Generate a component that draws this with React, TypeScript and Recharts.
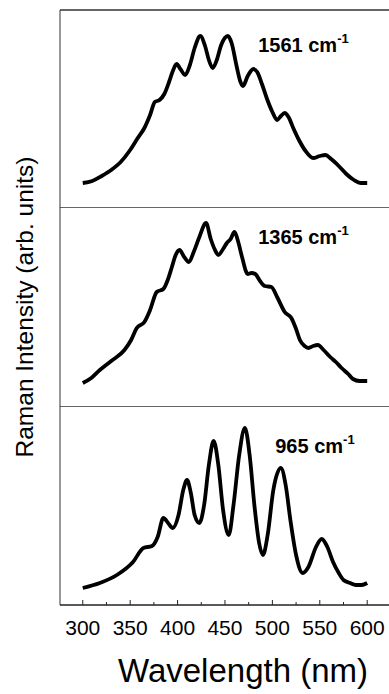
import { LineChart, Line, XAxis, YAxis, ReferenceDot, ReferenceLine, Label } from 'recharts'

// wavelength (nm) / intensity (arb. units)
const nm1561 = [300, 310, 320, 330, 340, 350, 358, 365, 371, 376, 381, 386, 391, 395, 399, 403, 408, 413, 418, 424, 429, 433, 437, 441, 446, 453, 457, 462, 466, 469, 474, 480, 484, 489, 494, 500, 505, 509, 513, 517, 522, 528, 535, 543, 550, 556, 562, 570, 578, 586, 593, 600]
const int1561 = [25, 27, 32, 38, 46, 58, 70, 80, 93, 106, 108, 114, 126, 137, 144, 139, 133, 143, 160, 172, 162, 148, 140, 147, 163, 172, 165, 143, 127, 122, 132, 139, 136, 124, 110, 96, 88, 92, 95, 91, 80, 68, 57, 50, 52, 53, 49, 42, 34, 28, 25, 25]

const nm1365 = [300, 309, 318, 330, 344, 351, 357, 365, 371, 378, 385, 390, 394, 398, 402, 407, 412, 417, 423, 430, 435, 439, 443, 448, 452, 456, 460, 464, 468, 474, 478, 482, 487, 492, 499, 505, 513, 520, 525, 529, 534, 538, 543, 548, 554, 561, 567, 573, 580, 585, 592, 600]
const int1365 = [24, 29, 37, 46, 57, 67, 79, 85, 97, 115, 118, 128, 140, 152, 157, 150, 145, 155, 170, 184, 168, 158, 152, 158, 164, 168, 175, 165, 150, 133, 134, 133, 126, 121, 120, 110, 95, 89, 78, 67, 61, 59, 61, 62, 57, 50, 45, 39, 33, 28, 26, 26]

const nm965 = [300, 318, 336, 353, 364, 373, 379, 385, 390, 395, 401, 406, 410, 414, 418, 423, 428, 433, 438, 443, 448, 454, 459, 465, 471, 476, 481, 486, 490, 495, 501, 509, 514, 519, 525, 532, 538, 546, 552, 558, 564, 570, 575, 582, 588, 594, 600]
const int965 = [17, 22, 30, 43, 57, 59, 68, 87, 82, 77, 90, 115, 125, 112, 90, 82, 100, 140, 164, 140, 95, 70, 100, 150, 177, 150, 100, 62, 50, 70, 115, 137, 120, 85, 50, 32, 38, 58, 66, 58, 43, 32, 25, 22, 20, 20, 22]

const xTicks = [300, 325, 350, 375, 400, 425, 450, 475, 500, 525, 550, 575, 600]
const xDomain = [276, 623]

const toRows = (nm: number[], v: number[]) => nm.map((x, i) => ({ nm: x, v: v[i] }))

const FONT = '"Liberation Sans", Arial, sans-serif'

function BottomTick({ x, y, payload }: any) {
  const major = payload.value % 50 === 0
  return (
    <g>
      <line x1={x} x2={x} y1={y} y2={y - (major ? 5 : 3)} stroke="#222" strokeWidth={1} />
      {major && (
        <text x={x} y={y + 30} textAnchor="middle" fontSize={21} fontFamily={FONT} fill="#000">
          {payload.value}
        </text>
      )}
    </g>
  )
}

function Annotation({ viewBox, wn }: any) {
  const { x, y } = viewBox
  return (
    <text x={x} y={y} fontSize={20} fontWeight="bold" fontFamily={FONT} fill="#000">
      <tspan>{wn} cm</tspan>
      <tspan dy={-9} fontSize={13}>-1</tspan>
    </text>
  )
}

function Panel({ rows, height, yMax, label, labelAt, topLine, bottomAxis }: any) {
  return (
    <LineChart
      width={389}
      height={height}
      data={rows}
      margin={{ top: topLine ? 10 : 0, right: 0, bottom: 0, left: 60 }}
    >
      {bottomAxis ? (
        <XAxis
          dataKey="nm"
          type="number"
          domain={xDomain}
          ticks={xTicks}
          tick={<BottomTick />}
          tickLine={false}
          tickSize={0}
          tickMargin={0}
          interval={0}
          height={89}
          axisLine={{ stroke: '#222', strokeWidth: 1.5 }}
        >
          <Label
            content={(p: any) => (
              <text x={243} y={p.viewBox.y + 77} textAnchor="middle" fontSize={33} fontFamily={FONT} fill="#000">
                Wavelength (nm)
              </text>
            )}
          />
        </XAxis>
      ) : (
        <XAxis dataKey="nm" type="number" domain={xDomain} hide />
      )}
      <YAxis type="number" domain={[0, yMax]} hide />
      {/* panel frame */}
      <ReferenceLine x={xDomain[0]} stroke="#555" strokeWidth={1.2} ifOverflow="visible" />
      {topLine && <ReferenceLine y={yMax} stroke="#333" strokeWidth={1.5} ifOverflow="visible" />}
      {!bottomAxis && <ReferenceLine y={0} stroke="#333" strokeWidth={1.5} ifOverflow="visible" />}
      <Line dataKey="v" type="monotone" stroke="#000" strokeWidth={3.8} dot={false} isAnimationActive={false} />
      <ReferenceDot x={labelAt[0]} y={labelAt[1]} r={0} ifOverflow="visible" stroke="none" fill="none">
        <Label content={(p: any) => <Annotation {...p} wn={label} />} />
      </ReferenceDot>
    </LineChart>
  )
}

export default function App() {
  return (
    <div style={{ position: 'absolute', left: 0, top: 0, width: 389, height: 694, background: '#fff' }}>
      <div style={{ position: 'absolute', left: 0, top: 0 }}>
        <Panel rows={toRows(nm1561, int1561)} height={208} yMax={198} label="1561" labelAt={[485, 156]} topLine />
      </div>
      <div style={{ position: 'absolute', left: 0, top: 208 }}>
        <Panel rows={toRows(nm1365, int1365)} height={199} yMax={199} label="1365" labelAt={[485, 163]} />
      </div>
      <div style={{ position: 'absolute', left: 0, top: 407 }}>
        <Panel rows={toRows(nm965, int965)} height={287} yMax={198} label="965" labelAt={[503, 152]} bottomAxis />
      </div>
      <svg width={60} height={694} style={{ position: 'absolute', left: 0, top: 0 }}>
        <text x={24} y={307} transform="rotate(-90, 24, 307)" textAnchor="middle" dominantBaseline="central" fontSize={24.5} fontFamily={FONT} fill="#000">
          Raman Intensity (arb. units)
        </text>
      </svg>
    </div>
  )
}
